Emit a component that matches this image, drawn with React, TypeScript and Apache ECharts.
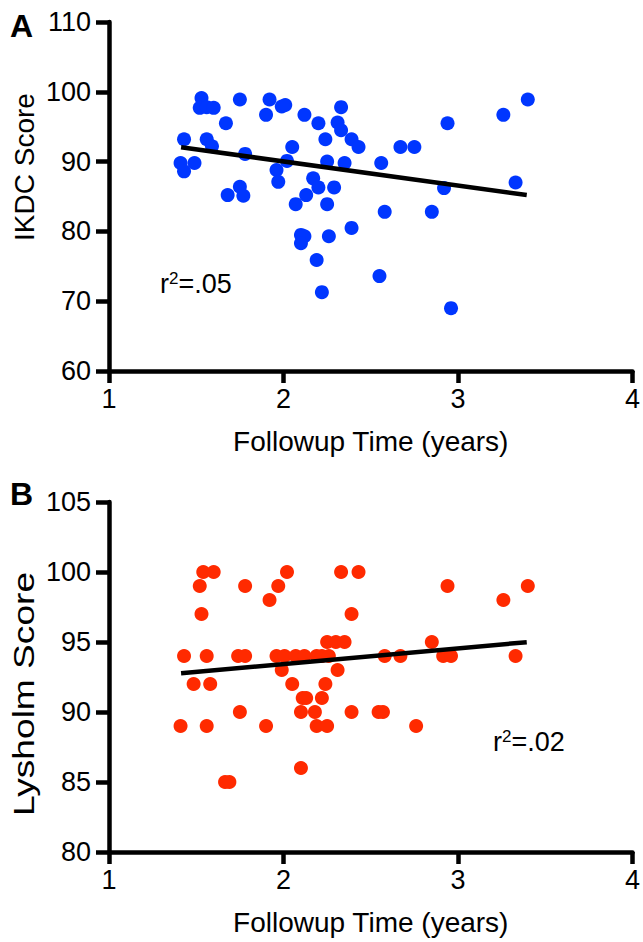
import React, { useEffect, useRef } from "react";
import * as echarts from "echarts";

// Panel A: IKDC score vs follow-up time
const ikdcTime = [1.53, 1.52, 1.56, 1.6, 1.75, 1.92, 1.9, 1.99, 2.01, 1.67, 2.12, 2.2, 2.33, 2.31, 2.33, 2.39, 2.43, 2.24, 1.43, 1.56, 1.59, 2.05, 1.78, 1.41, 1.49, 1.43, 2.02, 2.25, 2.35, 1.96, 1.97, 2.17, 2.2, 2.29, 1.75, 1.77, 1.68, 2.13, 2.07, 2.25, 2.39, 2.1, 2.12, 2.1, 2.26, 2.19, 2.22, 2.56, 2.67, 2.75, 2.94, 3.26, 3.4, 3.33, 2.92, 2.58, 2.85, 2.55, 2.96];
const ikdcScore = [99.1, 97.7, 97.8, 97.7, 98.9, 98.9, 96.7, 97.9, 98.1, 95.5, 96.7, 95.5, 97.8, 95.6, 94.5, 93.2, 92.1, 93.2, 93.2, 93.2, 92.2, 92.1, 91.1, 89.8, 89.8, 88.6, 90.1, 90.0, 89.8, 88.8, 87.1, 87.6, 86.3, 86.3, 86.4, 85.1, 85.2, 85.2, 83.9, 83.9, 80.5, 79.5, 79.3, 78.3, 79.3, 75.9, 71.3, 89.8, 92.1, 92.1, 95.5, 96.7, 98.9, 87.0, 86.2, 82.8, 82.8, 73.6, 69.0];
const ikdcFitTime = [1.413, 3.394];
const ikdcFitScore = [92.05, 85.21];

// Panel B: Lysholm score vs follow-up time
const lysTime = [1.54, 1.6, 2.02, 2.33, 2.43, 1.52, 1.78, 1.97, 2.94, 3.4, 1.92, 3.26, 1.53, 2.39, 2.25, 2.3, 2.35, 2.85, 1.43, 1.56, 1.74, 1.78, 1.96, 2.006, 2.07, 2.12, 2.19, 2.22, 2.26, 2.58, 2.67, 2.915, 2.96, 3.33, 1.99, 2.31, 1.485, 1.58, 2.05, 2.24, 2.11, 2.13, 2.22, 1.75, 2.1, 2.18, 2.39, 2.545, 2.57, 1.41, 1.56, 1.9, 2.19, 2.25, 2.76, 2.1, 1.665, 1.69];
const lysScore = [100, 100, 100, 100, 100, 99, 99, 99, 99, 99, 98, 98, 97, 97, 95, 95, 95, 95, 94, 94, 94, 94, 94, 94, 94, 94, 94, 94, 94, 94, 94, 94, 94, 94, 93, 93, 92, 92, 92, 92, 91, 91, 91, 90, 90, 90, 90, 90, 90, 89, 89, 89, 89, 89, 89, 86, 85, 85];
const lysFitTime = [1.413, 3.394];
const lysFitScore = [92.77, 94.99];

const xTicks = [1, 2, 3, 4];
const ikdcTicks = [60, 110, 10];
const lysTicks = [80, 105, 5];

const FONT = "'Liberation Sans', Arial, Helvetica, sans-serif";
const zip = (a: number[], b: number[]) => a.map((v, i) => [v, b[i]]);

export default function App() {
  const ref = useRef<HTMLDivElement>(null);
  useEffect(() => {
    if (!ref.current) return;
    const chart = echarts.init(ref.current, null, { renderer: "svg" });
    const axisLine = { show: true, lineStyle: { color: "#000", width: 4.5 } };
    const axisTick = { show: true, length: 13, lineStyle: { color: "#000", width: 4.5 } };
    const mkX = (gridIndex: number) => ({
      type: "value",
      gridIndex,
      min: xTicks[0],
      max: xTicks[xTicks.length - 1],
      interval: 1,
      axisLine,
      axisTick: { ...axisTick, length: 12 },
      splitLine: { show: false },
      axisLabel: { color: "#000", fontSize: 27, fontFamily: FONT, margin: 14 },
      name: "Followup Time (years)",
      nameLocation: "middle",
      nameGap: 56,
      nameTextStyle: { color: "#000", fontSize: 28, fontFamily: FONT },
    });
    const mkY = (gridIndex: number, t: number[]) => ({
      type: "value",
      gridIndex,
      min: t[0],
      max: t[1],
      interval: t[2],
      axisLine,
      axisTick,
      splitLine: { show: false },
      axisLabel: { color: "#000", fontSize: 27, fontFamily: FONT, margin: 18 },
    });
    const rich = {
      a: { fontSize: 27, fontFamily: FONT, color: "#000", lineHeight: 28 },
      s: { fontSize: 17, fontFamily: FONT, color: "#000", lineHeight: 17, verticalAlign: "top" },
    };
    chart.setOption({
      animation: false,
      backgroundColor: "#fff",
      grid: [
        { left: 109, top: 22, width: 527, height: 349 },
        { left: 109, top: 502, width: 527, height: 350 },
      ],
      xAxis: [mkX(0), mkX(1)],
      yAxis: [mkY(0, ikdcTicks), mkY(1, lysTicks)],
      series: [
        {
          type: "scatter",
          xAxisIndex: 0,
          yAxisIndex: 0,
          symbol: "circle",
          symbolSize: 14,
          itemStyle: { color: "#0036ff", opacity: 1 },
          data: zip(ikdcTime, ikdcScore),
          z: 2,
        },
        {
          type: "line",
          xAxisIndex: 0,
          yAxisIndex: 0,
          symbol: "none",
          lineStyle: { color: "#000", width: 4.5 },
          data: zip(ikdcFitTime, ikdcFitScore),
          z: 3,
        },
        {
          type: "scatter",
          xAxisIndex: 1,
          yAxisIndex: 1,
          symbol: "circle",
          symbolSize: 14,
          itemStyle: { color: "#ff2a00", opacity: 1 },
          data: zip(lysTime, lysScore),
          z: 2,
        },
        {
          type: "line",
          xAxisIndex: 1,
          yAxisIndex: 1,
          symbol: "none",
          lineStyle: { color: "#000", width: 4.5 },
          data: zip(lysFitTime, lysFitScore),
          z: 3,
        },
      ],
      graphic: [
        {
          type: "text",
          x: 10,
          y: 26,
          style: { text: "A", fontSize: 32, fontWeight: "bold", fontFamily: FONT, fill: "#000", verticalAlign: "middle" },
        },
        {
          type: "text",
          x: 10,
          y: 494,
          style: { text: "B", fontSize: 32, fontWeight: "bold", fontFamily: FONT, fill: "#000", verticalAlign: "middle" },
        },
        {
          type: "text",
          x: 24,
          y: 167,
          rotation: Math.PI / 2,
          style: { text: "IKDC Score", fontSize: 28, fontFamily: FONT, fill: "#000", align: "center", verticalAlign: "middle" },
        },
        {
          type: "text",
          x: 24,
          y: 694,
          rotation: Math.PI / 2,
          scaleX: 1.28,
          style: { text: "Lysholm Score", fontSize: 29, fontFamily: FONT, fill: "#000", align: "center", verticalAlign: "middle" },
        },
        {
          type: "text",
          x: 160,
          y: 284,
          style: { text: "{a|r}{s|2}{a|=.05}", rich, align: "left", verticalAlign: "middle" },
        },
        {
          type: "text",
          x: 493,
          y: 742,
          style: { text: "{a|r}{s|2}{a|=.02}", rich, align: "left", verticalAlign: "middle" },
        },
      ],
    });
    return () => chart.dispose();
  }, []);
  return (
    <div
      ref={ref}
      style={{ position: "absolute", left: 0, top: 0, width: 643, height: 942, background: "#fff" }}
    />
  );
}
